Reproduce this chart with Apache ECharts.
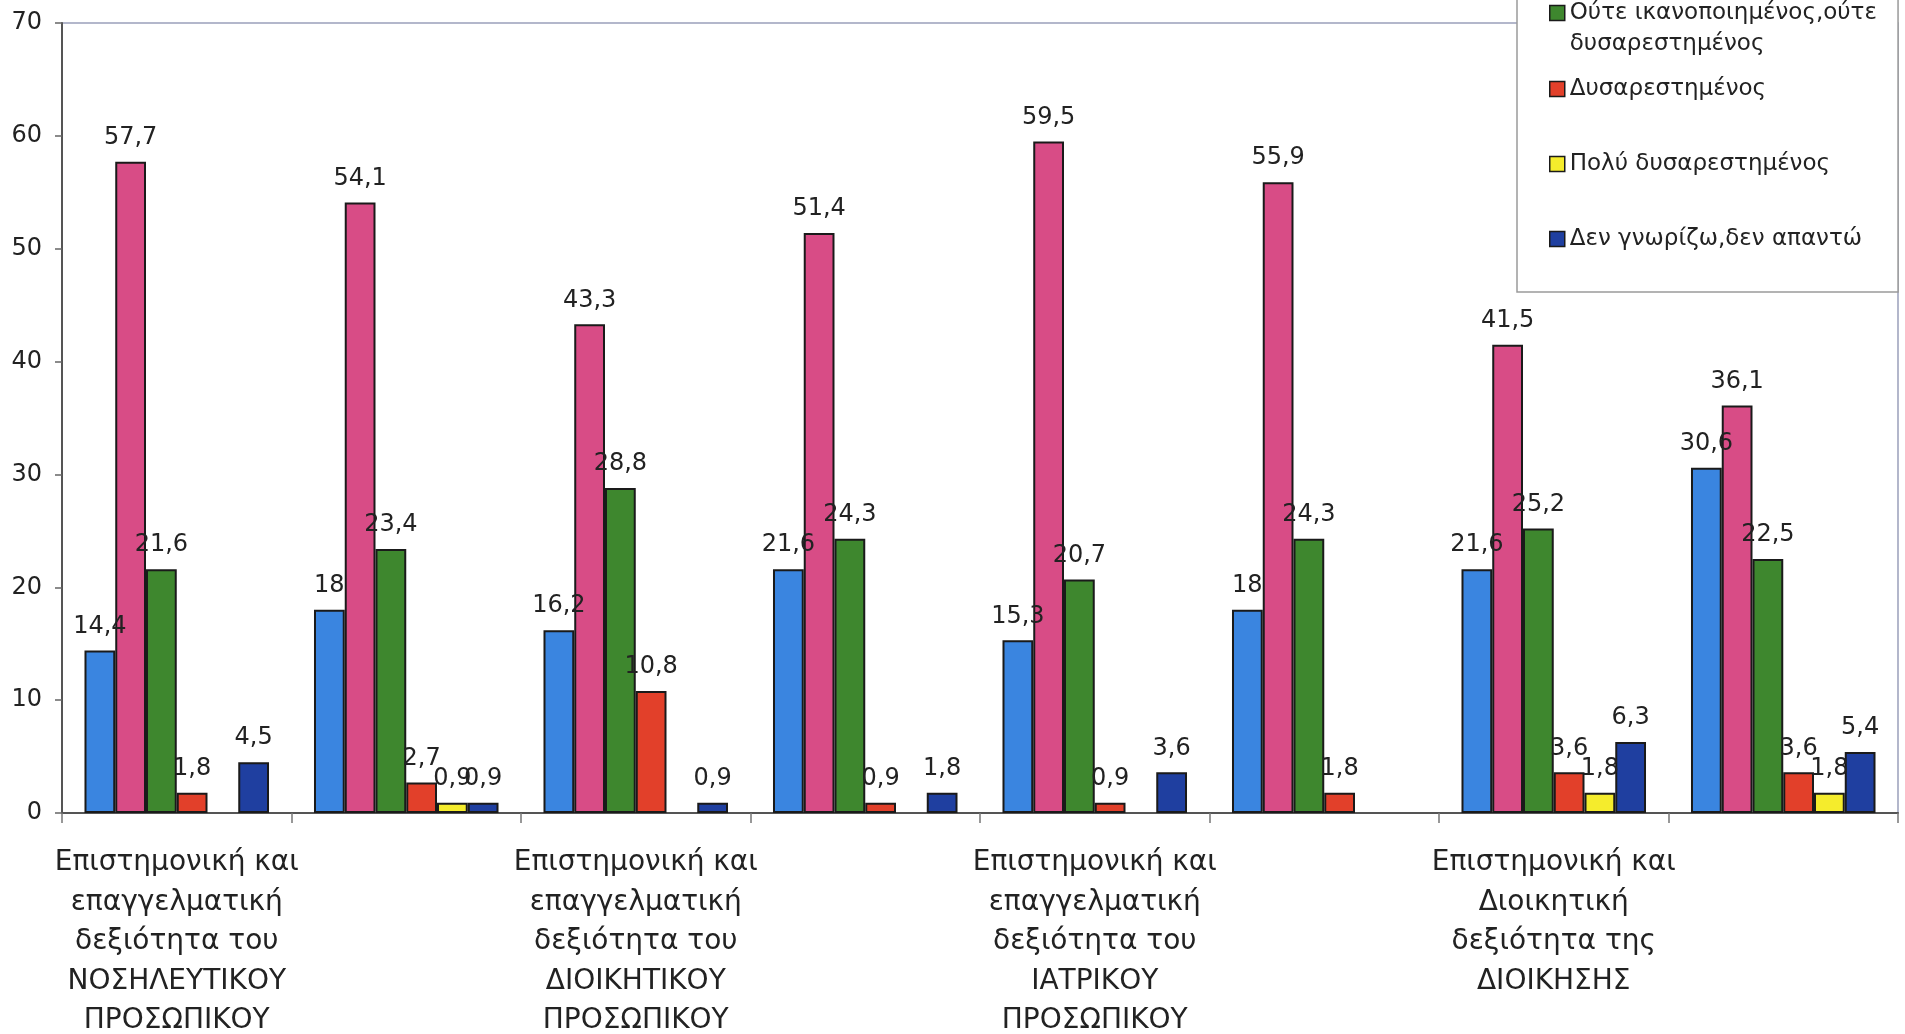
<!DOCTYPE html>
<html>
<head>
<meta charset="utf-8">
<style>
html,body{margin:0;padding:0;background:#fff;}
#chart{width:1905px;height:1034px;}
</style>
<script src="https://cdn.jsdelivr.net/npm/echarts@6/dist/echarts.min.js"></script>
</head>
<body>
<div id="chart"></div>
<script>
const categories = [
  'Επιστημονική και\nεπαγγελματική\nδεξιότητα του\nΝΟΣΗΛΕΥΤΙΚΟΥ\nΠΡΟΣΩΠΙΚΟΥ',
  '',
  'Επιστημονική και\nεπαγγελματική\nδεξιότητα του\nΔΙΟΙΚΗΤΙΚΟΥ\nΠΡΟΣΩΠΙΚΟΥ',
  '',
  'Επιστημονική και\nεπαγγελματική\nδεξιότητα του\nΙΑΤΡΙΚΟΥ\nΠΡΟΣΩΠΙΚΟΥ',
  '',
  'Επιστημονική και\nΔιοικητική\nδεξιότητα της\nΔΙΟΙΚΗΣΗΣ',
  ''
];
const seriesNames = [
  'Πολύ ικανοποιημένος',
  'Ικανοποιημένος',
  'Ούτε ικανοποιημένος,ούτε δυσαρεστημένος',
  'Δυσαρεστημένος',
  'Πολύ δυσαρεστημένος',
  'Δεν γνωρίζω,δεν απαντώ'
];
const veryPleased    = [14.4, 18,   16.2, 21.6, 15.3, 18,   21.6, 30.6];
const pleased        = [57.7, 54.1, 43.3, 51.4, 59.5, 55.9, 41.5, 36.1];
const neutral        = [21.6, 23.4, 28.8, 24.3, 20.7, 24.3, 25.2, 22.5];
const displeased     = [1.8,  2.7,  10.8, 0.9,  0.9,  1.8,  3.6,  3.6];
const veryDispleased = [null, 0.9,  null, null, null, null, 1.8,  1.8];
const dontKnow       = [4.5,  0.9,  0.9,  1.8,  3.6,  null, 6.3,  5.4];
const yTicks = [0, 10, 20, 30, 40, 50, 60, 70];

const colors = ['#3a85e0', '#d84c86', '#3e872e', '#e2402a', '#f5ec2c', '#1f3fa0'];
const values = [veryPleased, pleased, neutral, displeased, veryDispleased, dontKnow];
const FONT = 'DejaVu Sans';

const chart = echarts.init(document.getElementById('chart'), null, {renderer: 'canvas'});
const series = seriesNames.map((name, i) => ({
  name: name,
  type: 'bar',
  data: values[i],
  barGap: '0%',
  barCategoryGap: '19.6%',
  itemStyle: {color: colors[i], borderColor: '#1a1a1a', borderWidth: 2},
  label: {
    show: true,
    position: 'top',
    distance: 12,
    color: '#222',
    fontFamily: FONT,
    fontSize: 24,
    formatter: p => (p.value == null ? '' : String(p.value).replace('.', ','))
  }
}));

const legendText = {
  fontFamily: FONT, fontSize: 23, color: '#222', lineHeight: 32,
  rich: {
    a: {fontFamily: FONT, fontSize: 23, color: '#222', lineHeight: 32},
    b: {fontFamily: FONT, fontSize: 23, color: '#222', lineHeight: 0, verticalAlign: 'top', padding: [4, 0, 0, 0]}
  }
};
const legendFormatter = n => {
  const k = n.indexOf(',ούτε ');
  if (k < 0) return '{a|' + n + '}';
  return '{a|' + n.slice(0, k + 5) + '}\n{b|' + n.slice(k + 6) + '}';
};
const legendCommon = {
  orient: 'vertical',
  left: 1517,
  itemGap: 43,
  itemWidth: 15,
  itemHeight: 15,
  icon: 'rect',
  itemStyle: {borderColor: '#1a1a1a', borderWidth: 1.5},
  textStyle: legendText,
  formatter: legendFormatter
};

chart.setOption({
  backgroundColor: '#ffffff',
  animation: false,
  textStyle: {fontFamily: FONT},
  grid: {
    left: 62, right: 7, top: 23, bottom: 221,
    outerBoundsMode: 'none',
    containLabel: false,
    show: true, borderColor: '#9aa0bb', borderWidth: 1.5, backgroundColor: 'transparent'
  },
  legend: [
    Object.assign({}, legendCommon, {
      z: 7,
      top: -153,
      padding: [0, 36, 0, 32],
      data: seriesNames.slice(0, 3)
    }),
    Object.assign({}, legendCommon, {
      z: 6,
      top: -47,
      padding: [120, 36, 37, 32],
      backgroundColor: '#ffffff',
      borderColor: '#9a9a9a',
      borderWidth: 1.5,
      data: seriesNames.slice(3)
    })
  ],
  xAxis: {
    type: 'category',
    data: categories,
    axisLine: {lineStyle: {color: '#555', width: 2}},
    axisTick: {show: true, length: 10, lineStyle: {color: '#777', width: 1.5}},
    axisLabel: {
      interval: 0,
      margin: 30,
      fontFamily: FONT,
      fontSize: 28,
      lineHeight: 39.5,
      color: '#222',
      align: 'center'
    }
  },
  yAxis: {
    type: 'value',
    min: yTicks[0],
    max: yTicks[yTicks.length - 1],
    interval: 10,
    axisLine: {show: true, lineStyle: {color: '#555', width: 2}},
    axisTick: {show: true, length: 7, lineStyle: {color: '#666', width: 1.5}},
    splitLine: {show: false},
    axisLabel: {margin: 20, fontFamily: FONT, fontSize: 24, color: '#222'}
  },
  series: series
});
</script>
</body>
</html>
